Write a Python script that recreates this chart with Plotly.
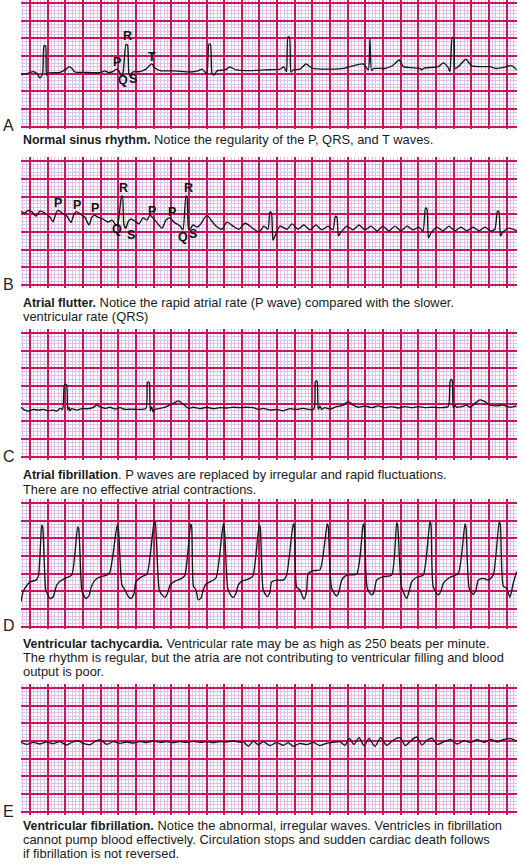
import plotly.graph_objects as go

W, H = 523, 866

# ---------------- data: (time s, voltage mV) ----------------
strip_a = [(-0.102,-0.02),(-0.023,0.01),(0.034,0.06),(0.079,0.01),(0.113,-0.12),(0.142,-0.01),
    (0.159,0.79),(0.176,0.79),(0.187,-0.04),(0.204,0.02),(0.340,0.04),(0.408,0.13),(0.442,0.20),
    (0.476,0.15),(0.510,0.05),(0.623,0.04),(0.793,0.03),(0.827,0.06),(0.850,0.08),(0.884,0.04),
    (0.929,0.05),(0.982,0.13),(1.008,0.08),(1.037,-0.06),(1.054,0.02),(1.088,0.83),(1.105,0.81),
    (1.122,-0.01),(1.141,-0.06),(1.161,0.05),(1.246,0.06),(1.314,0.13),(1.379,0.28),(1.416,0.16),
    (1.473,0.09),(1.643,0.08),(1.813,0.05),(1.903,0.08),(1.949,0.13),(1.983,0.05),(2.005,-0.01),
    (2.028,0.84),(2.045,0.83),(2.062,0.02),(2.085,-0.04),(2.119,0.08),(2.209,0.11),(2.266,0.19),
    (2.334,0.11),(2.493,0.09),(2.663,0.11),(2.833,0.13),(2.878,0.19),(2.906,0.06),(2.923,1.04),
    (2.940,1.03),(2.957,0.05),(2.980,0.11),(3.059,0.13),(3.127,0.28),(3.195,0.16),(3.399,0.13),
    (3.569,0.16),(3.626,0.20),(3.776,0.28),(3.833,0.11),(3.852,1.00),(3.871,0.09),(3.898,0.15),
    (4.022,0.15),(4.102,0.22),(4.185,0.39),(4.230,0.20),(4.419,0.15),(4.438,0.11),(4.464,0.16),
    (4.626,0.20),(4.683,0.31),(4.736,0.19),(4.759,0.06),(4.785,1.03),(4.804,1.01),(4.816,0.15),
    (4.850,0.19),(4.940,0.41),(5.005,0.22),(5.212,0.20),(5.288,0.15),(5.382,0.19),(5.458,0.23),
    (5.514,0.11)]

strip_b = [(-0.102,0.58),(-0.057,0.54),(-0.023,0.61),(0.023,0.57),(0.068,0.45),(0.113,0.59),
    (0.170,0.54),(0.227,0.42),(0.261,0.29),(0.295,0.54),(0.317,0.62),(0.363,0.54),(0.419,0.45),
    (0.465,0.27),(0.499,0.51),(0.527,0.58),(0.567,0.51),(0.623,0.42),(0.668,0.20),(0.702,0.42),
    (0.731,0.48),(0.770,0.42),(0.827,0.37),(0.884,0.28),(0.929,0.34),(0.963,0.23),(0.991,0.17),
    (1.037,1.01),(1.048,1.02),(1.065,0.20),(1.088,0.11),(1.110,0.28),(1.144,0.37),(1.190,0.31),
    (1.235,0.23),(1.280,0.40),(1.326,0.34),(1.360,0.48),(1.405,0.37),(1.450,0.23),(1.496,0.11),
    (1.541,0.34),(1.586,0.40),(1.632,0.28),(1.700,0.17),(1.733,0.06),(1.767,1.02),(1.779,0.99),
    (1.796,0.11),(1.813,0.08),(1.847,0.20),(1.892,0.14),(1.926,0.20),(2.005,0.48),(2.051,0.34),
    (2.107,0.17),(2.175,0.08),(2.232,0.28),(2.300,0.17),(2.368,0.08),(2.436,0.25),(2.493,0.17),
    (2.549,0.06),(2.595,0.00),(2.651,0.17),(2.697,0.08),(2.719,0.57),(2.736,0.54),(2.753,-0.23),
    (2.776,-0.11),(2.833,0.17),(2.912,0.08),(2.968,0.23),(3.036,0.08),(3.104,0.20),(3.172,0.06),
    (3.240,0.20),(3.308,0.06),(3.376,0.17),(3.433,0.06),(3.461,0.45),(3.478,0.42),(3.495,-0.11),
    (3.524,0.00),(3.592,0.17),(3.660,0.06),(3.728,0.20),(3.796,0.06),(3.864,0.17),(3.932,0.03),
    (3.999,0.17),(4.067,0.03),(4.135,0.17),(4.203,0.03),(4.271,0.17),(4.339,0.06),(4.407,0.14),
    (4.453,0.03),(4.481,0.68),(4.498,0.65),(4.515,-0.17),(4.543,-0.03),(4.611,0.14),(4.679,0.03),
    (4.747,0.17),(4.815,0.03),(4.883,0.14),(4.951,0.03),(5.019,0.14),(5.087,0.03),(5.155,0.14),
    (5.223,0.03),(5.268,0.08),(5.297,0.59),(5.314,0.57),(5.331,-0.11),(5.359,0.00),(5.427,0.11),
    (5.518,0.03)]

strip_c = [(-0.102,-0.10),(-0.057,-0.18),(-0.019,-0.21),(0.037,-0.16),(0.094,-0.18),(0.151,-0.16),
    (0.207,-0.20),(0.264,-0.18),(0.303,-0.21),(0.340,-0.13),(0.370,-0.16),(0.389,0.53),(0.404,0.55),
    (0.416,0.53),(0.427,-0.18),(0.442,-0.10),(0.453,-0.20),(0.472,-0.14),(0.529,-0.18),(0.586,-0.14),
    (0.661,-0.14),(0.717,-0.10),(0.756,-0.04),(0.793,-0.08),(0.850,-0.13),(0.906,-0.10),(0.963,-0.15),
    (1.020,-0.11),(1.076,-0.16),(1.152,-0.15),(1.227,-0.16),(1.314,-0.13),(1.329,0.58),(1.340,0.62),
    (1.352,0.60),(1.363,-0.20),(1.379,-0.08),(1.394,-0.23),(1.416,-0.16),(1.473,-0.13),(1.549,-0.08),
    (1.624,0.01),(1.680,0.08),(1.737,-0.01),(1.794,-0.13),(1.850,-0.10),(1.926,-0.14),(2.002,-0.10),
    (2.077,-0.14),(2.153,-0.11),(2.229,-0.12),(2.303,-0.10),(2.379,-0.11),(2.455,-0.10),(2.530,-0.11),
    (2.587,-0.16),(2.643,-0.13),(2.719,-0.18),(2.795,-0.16),(2.870,-0.20),(2.946,-0.14),(3.022,-0.16),
    (3.097,-0.13),(3.153,-0.16),(3.218,-0.15),(3.232,0.60),(3.244,0.65),(3.255,0.62),(3.266,-0.16),
    (3.286,-0.06),(3.305,-0.16),(3.342,-0.11),(3.399,-0.15),(3.475,-0.08),(3.550,-0.04),(3.606,0.06),
    (3.663,-0.04),(3.720,-0.10),(3.796,-0.06),(3.872,-0.11),(3.946,-0.06),(4.022,-0.11),(4.098,-0.08),
    (4.173,-0.12),(4.249,-0.08),(4.325,-0.11),(4.400,-0.08),(4.475,-0.11),(4.551,-0.10),(4.645,-0.11),
    (4.739,-0.08),(4.759,0.62),(4.774,0.69),(4.785,0.66),(4.796,-0.10),(4.816,-0.04),(4.835,-0.10),
    (4.891,-0.08),(4.948,-0.04),(4.986,-0.10),(5.042,0.01),(5.099,0.11),(5.155,0.06),(5.212,-0.04),
    (5.288,-0.06),(5.363,-0.04),(5.438,-0.10),(5.514,-0.06)]

strip_d = [(-0.102,-0.79),(-0.079,-0.52),(-0.057,-0.41),(0.000,-0.23),(0.068,-0.18),(0.096,-0.06),
    (0.133,1.38),(0.144,1.32),(0.178,-0.46),(0.198,-0.57),(0.227,-0.70),(0.261,-0.66),(0.303,-0.32),
    (0.340,-0.21),(0.397,-0.13),(0.472,-0.04),(0.540,1.33),(0.552,1.27),(0.586,-0.46),(0.606,-0.60),
    (0.634,-0.70),(0.668,-0.63),(0.691,-0.40),(0.736,-0.18),(0.793,-0.09),(0.869,-0.04),(0.906,0.05),
    (0.989,1.38),(1.000,1.32),(1.042,-0.32),(1.076,-0.46),(1.110,-0.63),(1.144,-0.70),(1.178,-0.57),
    (1.201,-0.23),(1.266,-0.08),(1.326,-0.01),(1.408,1.50),(1.420,1.44),(1.465,-0.46),(1.496,-0.60),
    (1.530,-0.67),(1.564,-0.52),(1.586,-0.32),(1.643,-0.21),(1.719,-0.13),(1.756,-0.04),(1.821,1.41),
    (1.832,1.32),(1.852,-0.35),(1.881,-0.46),(1.907,-0.74),(1.937,-0.69),(1.963,-0.46),(1.994,-0.29),
    (2.039,-0.23),(2.107,-0.12),(2.190,1.41),(2.201,1.32),(2.240,-0.41),(2.266,-0.57),(2.303,-0.67),
    (2.334,-0.55),(2.360,-0.32),(2.402,-0.21),(2.493,-0.13),(2.527,-0.06),(2.598,1.38),(2.609,1.32),
    (2.643,-0.46),(2.689,-0.65),(2.719,-0.52),(2.738,-0.23),(2.795,-0.18),(2.870,-0.18),(2.908,-0.04),
    (2.983,1.41),(2.995,1.32),(3.022,-0.38),(3.059,-0.46),(3.104,-0.72),(3.133,-0.52),(3.153,0.01),
    (3.210,0.09),(3.286,0.11),(3.368,1.41),(3.380,1.32),(3.418,-0.41),(3.475,-0.63),(3.501,-0.52),
    (3.532,-0.18),(3.588,-0.04),(3.702,-0.01),(3.776,1.41),(3.788,1.32),(3.822,-0.41),(3.872,-0.60),
    (3.898,-0.52),(3.928,-0.18),(4.003,-0.08),(4.098,-0.04),(4.155,1.45),(4.166,1.38),(4.211,-0.38),
    (4.268,-0.70),(4.294,-0.52),(4.325,-0.23),(4.381,-0.10),(4.456,-0.04),(4.532,1.47),(4.543,1.41),
    (4.569,-0.37),(4.626,-0.60),(4.657,-0.49),(4.683,-0.27),(4.759,-0.10),(4.853,0.01),(4.929,1.41),
    (4.940,1.32),(4.977,-0.41),(5.023,-0.58),(5.053,-0.46),(5.079,-0.18),(5.136,-0.13),(5.193,-0.18),
    (5.249,-0.04),(5.317,1.47),(5.329,1.41),(5.363,-0.35),(5.401,-0.41),(5.438,-0.67),(5.476,-0.27),
    (5.514,0.06)]

strip_e = [(-0.102,0.465),(-0.038,0.408),(0.038,0.465),(0.113,0.418),(0.189,0.475),(0.264,0.427),
    (0.340,0.484),(0.415,0.390),(0.472,0.465),(0.548,0.503),(0.604,0.437),(0.680,0.399),(0.736,0.484),
    (0.793,0.541),(0.831,0.475),(0.869,0.408),(0.944,0.484),(1.020,0.437),(1.095,0.475),(1.171,0.446),
    (1.246,0.484),(1.322,0.456),(1.397,0.503),(1.473,0.465),(1.549,0.484),(1.624,0.456),(1.700,0.484),
    (1.775,0.465),(1.851,0.493),(1.926,0.465),(2.002,0.484),(2.077,0.456),(2.153,0.484),(2.228,0.475),
    (2.304,0.503),(2.379,0.465),(2.417,0.484),(2.474,0.352),(2.531,0.503),(2.587,0.390),(2.644,0.484),
    (2.719,0.371),(2.795,0.465),(2.870,0.380),(2.927,0.456),(2.984,0.352),(3.059,0.437),(3.135,0.399),
    (3.210,0.465),(3.286,0.371),(3.361,0.437),(3.437,0.465),(3.513,0.484),(3.569,0.380),(3.618,0.578),
    (3.671,0.408),(3.728,0.597),(3.785,0.371),(3.841,0.578),(3.909,0.352),(3.973,0.597),(4.041,0.380),
    (4.117,0.531),(4.192,0.597),(4.253,0.371),(4.324,0.531),(4.381,0.616),(4.442,0.390),(4.502,0.531),
    (4.559,0.578),(4.615,0.408),(4.691,0.484),(4.767,0.550),(4.842,0.418),(4.918,0.512),(4.993,0.465),
    (5.069,0.541),(5.144,0.465),(5.220,0.550),(5.295,0.475),(5.371,0.550),(5.446,0.569),(5.514,0.503)]

labels_a = [("P", 0.982, 0.34), ("R", 1.107, 1.07), ("Q", 1.057, -0.18), ("S", 1.170, -0.16), ("T", 1.386, 0.48)]
labels_b = [("P", 0.321, 0.83), ("P", 0.536, 0.78), ("P", 0.736, 0.67), ("P", 1.379, 0.60), ("P", 1.605, 0.58),
            ("R", 1.065, 1.24), ("R", 1.794, 1.24), ("Q", 0.989, 0.08), ("Q", 1.730, -0.15),
            ("S", 1.144, -0.08), ("S", 1.843, -0.06)]

panel_letters = ["A", "B", "C", "D", "E"]
# each caption line: (bold lead, regular rest)
captions = [
    [("Normal sinus rhythm.", " Notice the regularity of the P, QRS, and T waves.")],
    [("Atrial flutter.", " Notice the rapid atrial rate (P wave) compared with the slower."),
     ("", "ventricular rate (QRS)")],
    [("Atrial fibrillation", ". P waves are replaced by irregular and rapid fluctuations."),
     ("", "There are no effective atrial contractions.")],
    [("Ventricular tachycardia.", " Ventricular rate may be as high as 250 beats per minute."),
     ("", "The rhythm is regular, but the atria are not contributing to ventricular filling and blood"),
     ("", "output is poor.")],
    [("Ventricular fibrillation.", " Notice the abnormal, irregular waves. Ventricles in fibrillation"),
     ("", "cannot pump blood effectively. Circulation stops and sudden cardiac death follows"),
     ("", "if fibrillation is not reversed.")],
]

# ---------------- layout (pixels) ----------------
PX_PER_S = 88.25     # 25 mm/s paper
PX_PER_MV = 35.3     # 10 mm/mV
X0_PX, XL_PX, XR_PX = 30, 21, 517
panels = [  # top, bottom, zero-mV line, caption line centres
    dict(top=0, bottom=129, zero=73.75, cap=[140]),
    dict(top=157, bottom=288, zero=232.05, cap=[302, 316.5]),
    dict(top=329, bottom=460, zero=403.75, cap=[474.5, 489]),
    dict(top=499, bottom=629, zero=573.75, cap=[643, 657, 671]),
    dict(top=684, bottom=815, zero=758.75, cap=[825, 839, 853]),
]
strips = [strip_a, strip_b, strip_c, strip_d, strip_e]
wave_labels = [labels_a, labels_b, [], [], []]

MAJOR = "#C8165C"
MINOR = "#DAC2E8"
FONT = "Liberation Sans, Arial, sans-serif"
CAP_SIZE, BOLD_SIZE = 12.9, 12.4

fig = go.Figure()
layout = dict(width=W, height=H, margin=dict(l=0, r=0, t=0, b=0),
              paper_bgcolor="white", plot_bgcolor="white", showlegend=False)
annotations = []
xr = [(XL_PX - X0_PX) / PX_PER_S, (XR_PX - X0_PX) / PX_PER_S]

for i, (pan, pts) in enumerate(zip(panels, strips)):
    sfx = "" if i == 0 else str(i + 1)
    fig.add_trace(go.Scatter(
        x=[p[0] for p in pts], y=[p[1] for p in pts],
        xaxis="x" + sfx, yaxis="y" + sfx, mode="lines",
        line=dict(color="#151515", width=1.35, shape="spline", smoothing=0.6),
        hoverinfo="skip"))
    yr = [(pan["zero"] - pan["bottom"]) / PX_PER_MV, (pan["zero"] - pan["top"]) / PX_PER_MV]
    common = dict(showticklabels=False, zeroline=False, showline=False, ticks="",
                  fixedrange=True, showgrid=True, gridcolor=MAJOR, gridwidth=1.5, tick0=0)
    layout["xaxis" + sfx] = dict(common, domain=[XL_PX / W, XR_PX / W], range=xr, dtick=0.2,
                                 anchor="y" + sfx,
                                 minor=dict(dtick=0.04, tick0=0, showgrid=True, gridcolor=MINOR,
                                            gridwidth=1, ticks=""))
    layout["yaxis" + sfx] = dict(common, domain=[1 - pan["bottom"] / H, 1 - pan["top"] / H],
                                 range=yr, dtick=0.5, anchor="x" + sfx,
                                 minor=dict(dtick=0.1, tick0=0, showgrid=True, gridcolor=MINOR,
                                            gridwidth=1, ticks=""))
    # panel letter
    annotations.append(dict(text=panel_letters[i], xref="paper", yref="paper", x=1 / W,
                            y=1 - (pan["bottom"] - 4) / H, xanchor="left", yanchor="middle",
                            showarrow=False, font=dict(family=FONT, size=16, color="#222")))
    # caption lines
    for (bold, rest), yc in zip(captions[i], pan["cap"]):
        txt = rest
        if bold:
            txt = '<b><span style="font-size:%spx">%s</span></b>%s' % (BOLD_SIZE, bold, rest)
        annotations.append(dict(text=txt, xref="paper", yref="paper", x=XL_PX / W,
                                y=1 - yc / H, xanchor="left", yanchor="middle", showarrow=False,
                                font=dict(family=FONT, size=CAP_SIZE, color="#1a1a1a")))
    for (lab, t, mv) in wave_labels[i]:
        annotations.append(dict(text="<b>%s</b>" % lab, xref="x" + sfx, yref="y" + sfx, x=t, y=mv,
                                xanchor="center", yanchor="middle", showarrow=False,
                                font=dict(family=FONT, size=12.5, color="#111")))

layout["annotations"] = annotations
fig.update_layout(**layout)
fig.write_html("out.html", config={"displayModeBar": False},
               post_script="document.body.style.margin='0';document.body.style.overflow='hidden';")
